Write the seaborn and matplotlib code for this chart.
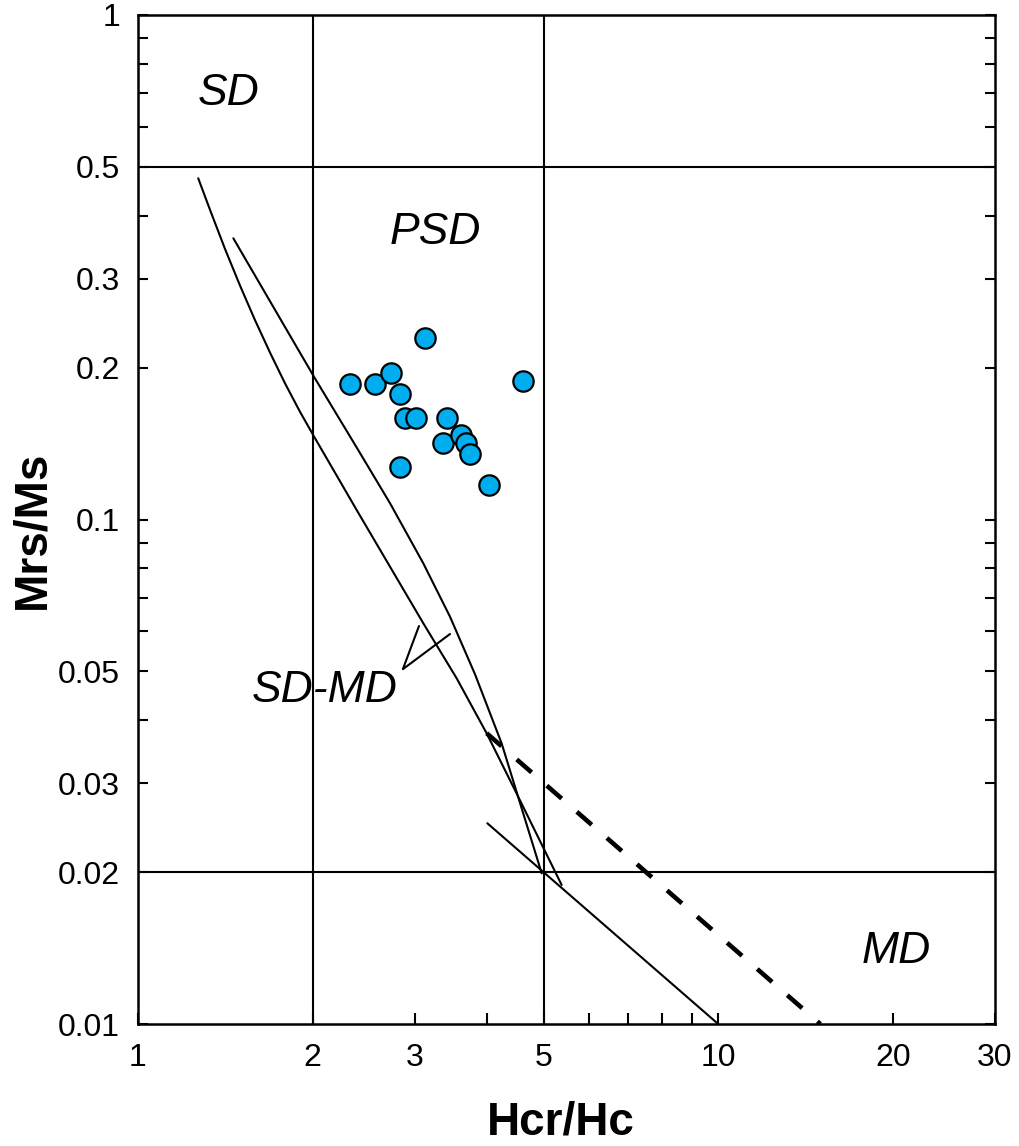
import matplotlib
matplotlib.use("Agg")
import matplotlib.pyplot as plt
import matplotlib.ticker as mticker
import seaborn as sns
import pandas as pd

# ---- data ----
hcr_hc = [2.32, 2.56, 2.73, 2.83, 2.89, 3.02, 3.12, 2.83, 3.35, 3.41, 3.60, 3.67, 3.74, 4.03, 4.60]
mrs_ms = [0.186, 0.186, 0.195, 0.177, 0.159, 0.159, 0.229, 0.127, 0.142, 0.159, 0.147, 0.142, 0.135, 0.117, 0.188]

curve_a_x = [1.270, 1.331, 1.412, 1.499, 1.591, 1.689, 1.792, 1.902, 2.003, 2.382, 2.719,
             3.102, 3.542, 3.990, 4.489, 5.373]
curve_a_y = [0.4746, 0.4108, 0.3441, 0.2909, 0.2484, 0.2141, 0.1862, 0.1635, 0.1472, 0.1044, 0.0806,
             0.0623, 0.04844, 0.03768, 0.0287, 0.01886]

curve_b_x = [1.460, 1.715, 2.019, 2.382, 2.719, 3.102, 3.449, 3.809, 4.235, 4.964]
curve_b_y = [0.3609, 0.2626, 0.1903, 0.1389, 0.1077, 0.0819, 0.0642, 0.04936, 0.03597, 0.01989]

md_line_x = [4.0, 10.0]
md_line_y = [0.025, 0.01]

dash_line_x = [3.99, 15.0]
dash_line_y = [0.0377, 0.01]

pointer_x = [3.05, 2.861, 3.45]
pointer_y = [0.0615, 0.0505, 0.0593]

x_ticks = [1, 2, 3, 5, 10, 20, 30]
x_tick_labels = ["1", "2", "3", "5", "10", "20", "30"]
y_ticks = [0.01, 0.02, 0.03, 0.05, 0.1, 0.2, 0.3, 0.5, 1]
y_tick_labels = ["0.01", "0.02", "0.03", "0.05", "0.1", "0.2", "0.3", "0.5", "1"]

region_labels = ["SD", "PSD", "SD-MD", "MD"]
region_x = [1.43, 3.26, 2.10, 20.3]
region_y = [0.70, 0.371, 0.0459, 0.0139]

hlines = [0.5, 0.02]
vlines = [2, 5]

# ---- plotting ----
sns.set_theme(style="ticks")
plt.rcParams['font.family'] = ['Liberation Sans', 'DejaVu Sans']
plt.rcParams.update({"text.color": "black", "axes.labelcolor": "black",
                     "xtick.color": "black", "ytick.color": "black",
                     "axes.edgecolor": "black"})

fig = plt.figure(figsize=(10.2, 11.46), dpi=100)
ax = fig.add_axes([138/1020, 1 - 1024/1146, (995-138)/1020, (1024-15)/1146])
ax.set_xscale("log")
ax.set_yscale("log")
ax.set_xlim(1, 30)
ax.set_ylim(0.01, 1)

lw = 1.5
for h in hlines:
    ax.axhline(h, color="black", lw=lw, zorder=1)
for v in vlines:
    ax.axvline(v, color="black", lw=lw, zorder=1)

def draw(xs, ys, **kw):
    df = pd.DataFrame({"x": xs, "y": ys})
    sns.lineplot(data=df, x="x", y="y", sort=False, estimator=None, ax=ax,
                 color="black", **kw)

draw(curve_a_x, curve_a_y, lw=lw)
draw(curve_b_x, curve_b_y, lw=lw)
draw(md_line_x, md_line_y, lw=lw)
draw(pointer_x, pointer_y, lw=lw)
draw(dash_line_x, dash_line_y, lw=3.3, dashes=(4.3, 4.4))

pts = pd.DataFrame({"Hcr/Hc": hcr_hc, "Mrs/Ms": mrs_ms})
sns.scatterplot(data=pts, x="Hcr/Hc", y="Mrs/Ms", ax=ax, s=215,
                color="#00AEEF", edgecolor="black", linewidth=1.6, zorder=5)

for t, x, y in zip(region_labels, region_x, region_y):
    ax.text(x, y, t, fontsize=32, style="italic", ha="center", va="center")

# ticks
ax.xaxis.set_major_locator(mticker.FixedLocator(x_ticks))
ax.xaxis.set_major_formatter(mticker.FixedFormatter(x_tick_labels))
ax.xaxis.set_minor_locator(mticker.FixedLocator([4, 6, 7, 8, 9]))
ax.xaxis.set_minor_formatter(mticker.NullFormatter())
ax.yaxis.set_major_locator(mticker.FixedLocator(y_ticks))
ax.yaxis.set_major_formatter(mticker.FixedFormatter(y_tick_labels))
ax.yaxis.set_minor_locator(mticker.FixedLocator(
    [0.04, 0.06, 0.07, 0.08, 0.09, 0.4, 0.6, 0.7, 0.8, 0.9]))
ax.yaxis.set_minor_formatter(mticker.NullFormatter())

ax.tick_params(axis="x", which="both", direction="in", length=8, width=1.5,
               labelsize=23, pad=14, top=False, bottom=True)
ax.tick_params(axis="y", which="both", direction="in", length=7.5, width=1.5,
               labelsize=23, pad=13, left=True, right=True)

for s in ax.spines.values():
    s.set_linewidth(1.8)
    s.set_color("black")

ax.set_xlabel("Hcr/Hc", fontsize=33, fontweight="bold")
ax.set_ylabel("Mrs/Ms", fontsize=33, fontweight="bold")
ax.xaxis.label.set_verticalalignment("baseline")
ax.xaxis.set_label_coords(0.493, -0.110)
ax.yaxis.set_label_coords(-0.097, 0.49)

fig.savefig("out.png", dpi=100)
